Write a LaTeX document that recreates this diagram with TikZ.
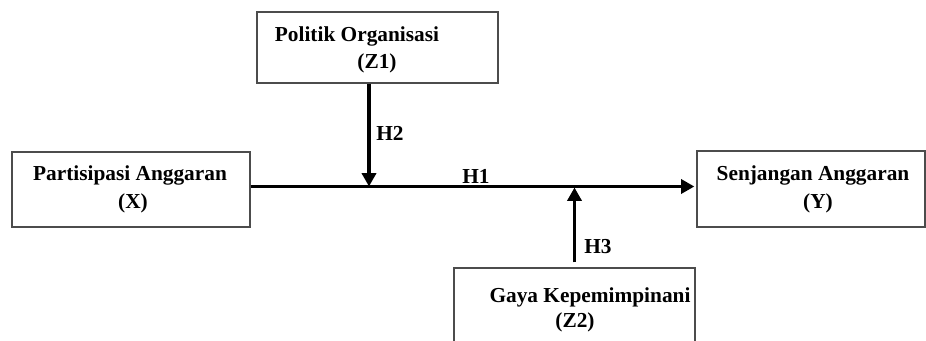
\documentclass[tikz,border=0pt]{standalone}
\usepackage{fontspec}
\setmainfont{Liberation Serif}
\usetikzlibrary{arrows.meta,positioning}
\definecolor{boxline}{gray}{0.3}
\tikzset{
  varbox/.style={
    rectangle, draw=boxline, line width=0.9pt, fill=white,
    inner sep=0pt
  },
  varlabel/.style={
    font=\fontsize{16}{19}\selectfont\bfseries,
    inner sep=0pt, anchor=base
  },
  arrow/.style={-{Triangle[length=10pt,width=10.5pt]}, line width=2.6pt, draw=black}
}

\begin{document}
\begin{tikzpicture}[x=0.75pt, y=-0.75pt]
  \useasboundingbox (0,0) rectangle (926,340);
  \clip (0,0) rectangle (926,340);

  % boxes
  \node[varbox, minimum width=180.75pt, minimum height=53.25pt] (Z1) at (377.5,47.5) {};
  \node[varbox, minimum width=178.5pt, minimum height=56.25pt] (X) at (131,189.5) {};
  \node[varbox, minimum width=171pt, minimum height=57pt] (Y) at (811,189) {};
  \node[varbox, minimum width=180.75pt, minimum height=69pt] (Z2) at (574.5,314) {};

  % texts
  \node[varlabel] (z1name) at (357,41.7) {Politik Organisasi};
  \node[varlabel] (z1code) at (377,68) {(Z1)};
  \node[varlabel] (xname) at (130,180) {Partisipasi Anggaran};
  \node[varlabel] (xcode) at (133,208) {(X)};
  \node[varlabel] (yname) at (813,180) {Senjangan Anggaran};
  \node[varlabel] (ycode) at (818,208) {(Y)};
  \node[varlabel] (z2name) at (590,302) {Gaya Kepemimpinani};
  \node[varlabel] (z2code) at (575,327) {(Z2)};

  % junctions on the main path
  \coordinate (j2) at (369,186.5);
  \coordinate (j3) at (573,187.5);

  \draw[arrow] (X.east |- j2) -- ([xshift=-1.5pt]Y.west |- j2);
  \draw[arrow] (Z1.south -| j2) -- (j2);
  \draw[arrow] ([yshift=3.75pt]Z2.north) -- (Z2.north |- j3);

  \node[varlabel] (h1) at (476,183) {H1};
  \node[varlabel] (h2) at (390,140) {H2};
  \node[varlabel] (h3) at (598,253) {H3};
\end{tikzpicture}
\end{document}
